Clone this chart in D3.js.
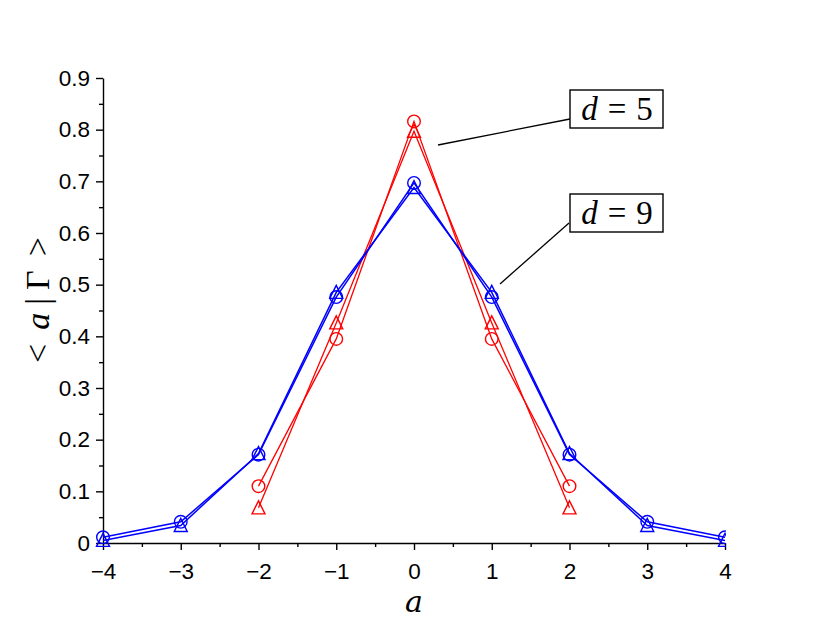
<!DOCTYPE html>
<html><head><meta charset="utf-8">
<script src="https://cdn.jsdelivr.net/npm/d3@7"></script>
<style>
body { margin: 0; background: #fff; }
.axis text { font: 22.5px "Liberation Sans", Arial, sans-serif; fill: #000; }
.axis path, .axis line { stroke: #000; stroke-width: 1.4; fill: none; }
</style>
</head><body>
<script>

// values
var xValsD5 = [-2, -1, 0, 1, 2];
var d5Circle = [0.110, 0.395, 0.816, 0.395, 0.110];
var d5Triangle = [0.068, 0.426, 0.797, 0.426, 0.068];

var xValsD9 = [-4, -3, -2, -1, 0, 1, 2, 3, 4];
var d9Circle = [0.011, 0.041, 0.171, 0.476, 0.697, 0.476, 0.171, 0.041, 0.011];
var d9Triangle = [0.005, 0.034, 0.173, 0.485, 0.688, 0.485, 0.173, 0.034, 0.005];

var xTicks = [-4, -3, -2, -1, 0, 1, 2, 3, 4];
var yTicks = [0, 0.1, 0.2, 0.3, 0.4, 0.5, 0.6, 0.7, 0.8, 0.9];

var width = 830, height = 626;

var x = d3.scaleLinear().domain([-4, 4]).range([103, 725]);
var y = d3.scaleLinear().domain([0, 0.9]).range([543, 78]);

var svg = d3.select("body").append("svg")
    .attr("width", width)
    .attr("height", height);

// plot area clips on the right edge, as in the original
svg.append("clipPath").attr("id", "plotclip")
  .append("rect").attr("x", 0).attr("y", 0).attr("width", x(4) + 1).attr("height", height);

// minor ticks
svg.append("g")
    .attr("class", "axis")
    .attr("transform", "translate(0," + y(0) + ")")
    .call(d3.axisBottom(x).tickValues(d3.range(-3.5, 4, 1)).tickSize(4).tickFormat("").tickSizeOuter(0))
    .select(".domain").remove();
svg.append("g")
    .attr("class", "axis")
    .attr("transform", "translate(" + x(-4) + ",0)")
    .call(d3.axisLeft(y).tickValues(d3.range(0.05, 0.9, 0.1)).tickSize(4).tickFormat("").tickSizeOuter(0))
    .select(".domain").remove();

// major axes
var fmtX = function(d) { return d < 0 ? "\u2212" + Math.abs(d) : String(d); };
svg.append("g")
    .attr("class", "axis")
    .attr("transform", "translate(0," + y(0) + ")")
    .call(d3.axisBottom(x).tickValues(xTicks).tickSize(7).tickSizeOuter(0).tickPadding(13).tickFormat(fmtX));

svg.append("g")
    .attr("class", "axis")
    .attr("transform", "translate(" + x(-4) + ",0)")
    .call(d3.axisLeft(y).tickValues(yTicks).tickSize(7).tickSizeOuter(0).tickPadding(6)
      .tickFormat(function(d) { return d === 0 ? "0" : d3.format(".1f")(d); }));

// axis labels
svg.append("text")
    .attr("x", 414).attr("y", 612)
    .attr("text-anchor", "middle")
    .style("font", "italic 30px 'DejaVu Serif', 'Liberation Serif', serif")
    .text("a");

var yl = svg.append("text")
    .attr("transform", "translate(49,300) rotate(-90)")
    .attr("text-anchor", "middle")
    .style("font", "34px 'Liberation Serif', 'DejaVu Serif', serif");
yl.append("tspan").text("<");
yl.append("tspan").attr("dx", 14).style("font-style", "italic").text("a");
yl.append("tspan").attr("dx", 8).text("|");
yl.append("tspan").attr("dx", 8).text("\u0393");
yl.append("tspan").attr("dx", 14).text(">");

// series
function triPath(cx, cy) {
  var s = 13, h = 12;
  return "M" + cx + "," + (cy - h / 2 - 1) + "L" + (cx + s / 2) + "," + (cy + h / 2) + "L" + (cx - s / 2) + "," + (cy + h / 2) + "Z";
}

var plot = svg.append("g").attr("clip-path", "url(#plotclip)");

function drawSeries(xs, ys, color, marker, lw) {
  var pts = xs.map(function(d, i) { return [x(d), y(ys[i])]; });
  plot.append("path")
      .attr("d", d3.line()(pts))
      .attr("fill", "none")
      .attr("stroke", color)
      .attr("stroke-width", lw);
  var g = plot.append("g");
  if (marker === "circle") {
    g.selectAll("circle").data(pts).enter().append("circle")
        .attr("cx", function(d) { return d[0]; })
        .attr("cy", function(d) { return d[1]; })
        .attr("r", 6.3)
        .attr("fill", "none")
        .attr("stroke", color)
        .attr("stroke-width", 1.4);
  } else {
    g.selectAll("path").data(pts).enter().append("path")
        .attr("d", function(d) { return triPath(d[0], d[1]); })
        .attr("fill", "none")
        .attr("stroke", color)
        .attr("stroke-width", 1.4);
  }
}

drawSeries(xValsD5, d5Circle, "#ff0000", "circle", 1.3);
drawSeries(xValsD5, d5Triangle, "#ff0000", "triangle", 1.3);
drawSeries(xValsD9, d9Circle, "#0000ff", "circle", 1.5);
drawSeries(xValsD9, d9Triangle, "#0000ff", "triangle", 1.5);

// annotations
function note(bx, by, label, lx1, ly1, lx2, ly2) {
  svg.append("line")
      .attr("x1", lx1).attr("y1", ly1).attr("x2", lx2).attr("y2", ly2)
      .attr("stroke", "#000").attr("stroke-width", 1.3);
  svg.append("rect")
      .attr("x", bx).attr("y", by).attr("width", 93).attr("height", 38)
      .attr("fill", "#fff").attr("stroke", "#000").attr("stroke-width", 1.4);
  var t = svg.append("text")
      .attr("x", bx + 47).attr("y", by + 30)
      .attr("text-anchor", "middle")
      .style("font", "33px 'Liberation Serif', 'DejaVu Serif', serif");
  t.append("tspan").style("font-style", "italic").text("d");
  t.append("tspan").attr("dx", 10).text("=");
  t.append("tspan").attr("dx", 10).text(label);
}

note(570, 90, "5", 570, 119, 438, 145);
note(570, 194, "9", 569, 223, 500, 284);

</script>
</body></html>
